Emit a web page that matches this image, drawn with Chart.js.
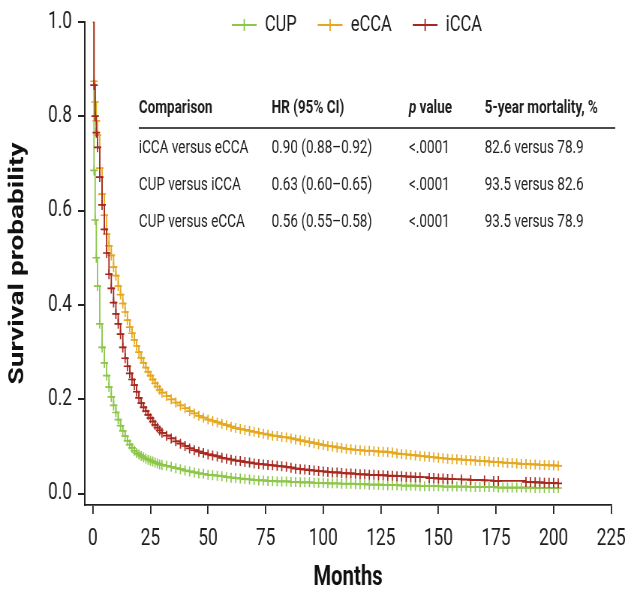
<!DOCTYPE html>
<html>
<head>
<meta charset="utf-8">
<script src="https://cdn.jsdelivr.net/npm/chart.js@4.4.1/dist/chart.umd.min.js"></script>
<style>
  html, body { margin: 0; padding: 0; background: #fff; overflow: hidden; }
  /* the original figure is horizontally condensed, so draw wide and squeeze */
  #wrap { width: 845px; height: 594px; position: relative; transform: scaleX(0.7503); transform-origin: 0 0; }
</style>
</head>
<body>
<div id="wrap"><canvas id="km"></canvas></div>
<script>
// Kaplan-Meier survival, values
const months = [0, 0.5, 1, 1.5, 2, 3, 4, 5, 6, 7, 8, 9, 10, 11, 12, 13, 14, 15, 16, 17, 18, 19, 20,
  21, 22, 23, 24, 25, 26, 27, 28, 29, 30,
  32, 34, 36, 38, 40, 42, 44, 46, 48, 50,
  52, 54, 56, 58, 60, 62, 64, 66, 68, 70,
  72, 74, 76, 78, 80, 82, 84, 86, 88, 90,
  92, 94, 96, 98, 100, 102, 104, 106, 108, 110,
  112, 114, 116, 118, 120, 122, 124, 126, 128, 130,
  132, 134, 136, 138, 140, 142, 144, 146, 148, 150,
  152, 154, 156, 158, 160, 162, 164, 166, 168, 170,
  172, 174, 176, 178, 180, 182, 184, 186, 188, 190,
  192, 194, 196, 198, 200, 202];

const cup = [1.0, 0.685, 0.58, 0.50, 0.44, 0.36, 0.31, 0.277, 0.25, 0.226, 0.205, 0.187, 0.172,
  0.157, 0.144, 0.133, 0.122, 0.112, 0.104, 0.097, 0.091, 0.086, 0.083,
  0.080, 0.077, 0.074, 0.072, 0.070, 0.068, 0.066, 0.064, 0.062, 0.061,
  0.059, 0.057, 0.054, 0.052, 0.049, 0.047, 0.045, 0.043, 0.042, 0.040,
  0.039, 0.038, 0.037, 0.035, 0.034, 0.033, 0.032, 0.031, 0.030, 0.029,
  0.028, 0.028, 0.027, 0.027, 0.026, 0.026, 0.026, 0.025, 0.025, 0.024,
  0.024, 0.024, 0.023, 0.023, 0.023, 0.022, 0.022, 0.022, 0.021, 0.021,
  0.021, 0.020, 0.020, 0.020, 0.019, 0.019, 0.019, 0.018, 0.018, 0.018,
  0.018, 0.017, 0.017, 0.017, 0.017, 0.016, 0.016, 0.016, 0.016, 0.016,
  0.015, 0.015, 0.015, 0.015, 0.015, 0.015, 0.014, 0.014, 0.014, 0.014,
  0.014, 0.014, 0.013, 0.013, 0.013, 0.013, 0.013, 0.013, 0.013, 0.013,
  0.012, 0.012, 0.012, 0.012, 0.012, 0.012];

const ecca = [1.0, 0.874, 0.83, 0.79, 0.76, 0.69, 0.635, 0.59, 0.55, 0.525, 0.505, 0.48, 0.462,
  0.44, 0.422, 0.403, 0.385, 0.368, 0.353, 0.340, 0.326, 0.313, 0.300,
  0.288, 0.277, 0.267, 0.258, 0.250, 0.242, 0.234, 0.227, 0.220, 0.214,
  0.207, 0.200, 0.193, 0.187, 0.181, 0.175, 0.170, 0.165, 0.161, 0.157,
  0.154, 0.151, 0.148, 0.145, 0.142, 0.139, 0.137, 0.135, 0.133, 0.131,
  0.129, 0.127, 0.125, 0.123, 0.122, 0.120, 0.119, 0.117, 0.115, 0.113,
  0.111, 0.109, 0.107, 0.105, 0.103, 0.101, 0.100, 0.098, 0.097, 0.095,
  0.094, 0.093, 0.092, 0.091, 0.091, 0.090, 0.089, 0.089, 0.088, 0.087,
  0.085, 0.084, 0.083, 0.082, 0.081, 0.080, 0.079, 0.078, 0.077, 0.076,
  0.075, 0.074, 0.073, 0.073, 0.072, 0.071, 0.071, 0.070, 0.069, 0.069,
  0.068, 0.067, 0.067, 0.066, 0.065, 0.065, 0.064, 0.063, 0.063, 0.062,
  0.062, 0.061, 0.061, 0.060, 0.060, 0.059];

// null = no censor mark at that month (line carries on)
const icca = [1.0, 0.866, 0.80, 0.765, 0.734, 0.671, 0.612, 0.56, 0.51, 0.465, 0.435, 0.405, 0.381,
  0.36, 0.338, 0.31, 0.287, 0.27, 0.255, 0.242, 0.23, 0.216, 0.203,
  0.192, 0.183, 0.175, 0.167, 0.160, 0.153, 0.146, 0.140, 0.134, 0.129,
  0.123, 0.117, 0.111, 0.106, 0.101, 0.096, 0.092, 0.089, 0.086, 0.083,
  0.081, 0.079, 0.076, 0.074, 0.072, 0.070, 0.069, 0.067, 0.066, 0.064,
  0.063, 0.062, 0.061, 0.060, 0.059, 0.058, 0.057, 0.055, 0.053, 0.052,
  0.051, 0.050, 0.049, 0.048, 0.047, 0.046, 0.045, 0.045, 0.044, 0.043,
  0.043, 0.042, 0.041, 0.041, 0.040, 0.040, 0.039, 0.039, 0.038, 0.038,
  0.037, 0.037, 0.036, 0.036, 0.035, 0.035, null, 0.033, 0.033, 0.032,
  0.032, 0.031, 0.031, null, 0.030, null, 0.029, null, null, 0.028,
  null, 0.027, 0.027, null, null, null, null, null, 0.025, 0.025,
  0.024, 0.024, 0.023, 0.023, 0.023, 0.022];

const seriesNames = ['CUP', 'eCCA', 'iCCA'];
const seriesColors = ['#8cc64a', '#e4a820', '#a6281e'];
const xTicks = [0, 25, 50, 75, 100, 125, 150, 175, 200, 225];
const yTicks = [0, 0.2, 0.4, 0.6, 0.8, 1.0];

const tableHeader = ['Comparison', 'HR (95% CI)', 'p value', '5-year mortality, %'];
const tableRows = [
  ['iCCA versus eCCA', '0.90 (0.88\u20130.92)', '<.0001', '82.6 versus 78.9'],
  ['CUP versus iCCA', '0.63 (0.60\u20130.65)', '<.0001', '93.5 versus 82.6'],
  ['CUP versus eCCA', '0.56 (0.55\u20130.58)', '<.0001', '93.5 versus 78.9']
];

const FONT = "Roboto, 'Liberation Sans', sans-serif";
const INK = '#1e1e1e';

function makeSet(name, vals, color, order) {
  return {
    label: name,
    data: months.map((m, i) => ({ x: m, y: vals[i] })),
    borderColor: color,
    backgroundColor: color,
    borderWidth: 1.8,
    stepped: true,
    spanGaps: true,
    pointStyle: 'cross',
    pointRadius: c => (c.dataIndex === 0 ? 0 : 5),
    pointBorderWidth: 1.7,
    pointBorderColor: color,
    order: order
  };
}

// legend and comparison table drawn over the plot
const overlay = {
  id: 'overlay',
  afterDraw(chart) {
    const ctx = chart.ctx;
    ctx.save();
    ctx.textBaseline = 'middle';
    ctx.textAlign = 'left';

    // legend
    ctx.font = '22px ' + FONT;
    let lx = 309;
    const ly = 25;
    seriesNames.forEach((name, i) => {
      ctx.strokeStyle = seriesColors[i];
      ctx.lineWidth = 1.8;
      ctx.beginPath();
      ctx.moveTo(lx, ly); ctx.lineTo(lx + 33, ly);
      ctx.moveTo(lx + 16.5, ly - 6); ctx.lineTo(lx + 16.5, ly + 6);
      ctx.stroke();
      ctx.fillStyle = INK;
      ctx.fillText(name, lx + 44, ly);
      lx += 44 + ctx.measureText(name).width + 28;
    });

    // table
    const cols = [185, 362, 545, 646];
    const headY = 108;
    ctx.fillStyle = INK;
    ctx.font = 'bold 18px ' + FONT;
    tableHeader.forEach((h, j) => {
      if (h.startsWith('p ')) {
        ctx.font = 'italic bold 18px ' + FONT;
        ctx.fillText('p', cols[j], headY);
        const w = ctx.measureText('p ').width;
        ctx.font = 'bold 18px ' + FONT;
        ctx.fillText(h.slice(2), cols[j] + w, headY);
      } else {
        ctx.fillText(h, cols[j], headY);
      }
    });
    ctx.strokeStyle = '#4a4a4a';
    ctx.lineWidth = 2;
    ctx.beginPath();
    ctx.moveTo(185, 128); ctx.lineTo(820, 128);
    ctx.stroke();

    ctx.font = '18px ' + FONT;
    tableRows.forEach((row, r) => {
      row.forEach((cell, j) => ctx.fillText(cell, cols[j], 148 + r * 37));
    });
    ctx.restore();
  }
};

new Chart(document.getElementById('km'), {
  type: 'line',
  data: {
    datasets: [
      makeSet('CUP', cup, seriesColors[0], 3),
      makeSet('eCCA', ecca, seriesColors[1], 2),
      makeSet('iCCA', icca, seriesColors[2], 1)
    ]
  },
  options: {
    responsive: true,
    maintainAspectRatio: false,
    animation: false,
    layout: { padding: { top: 12, right: 24, left: 0, bottom: 0 } },
    plugins: { legend: { display: false }, tooltip: { enabled: false } },
    scales: {
      x: {
        type: 'linear',
        min: -3.5,
        max: 225,
        afterBuildTicks: s => { s.ticks = xTicks.map(v => ({ value: v })); },
        afterFit: s => { s.height = 89; },
        ticks: { font: { family: FONT, size: 23 }, color: INK, padding: 11, maxRotation: 0, autoSkip: false },
        grid: { display: true, drawOnChartArea: false, drawTicks: true, tickLength: 9, color: '#222', lineWidth: 1.8 },
        border: { display: true, color: '#222', width: 1.8 },
        title: { display: true, text: 'Months', font: { family: FONT, size: 27, weight: 'bold' }, color: '#111', padding: { top: 0, bottom: 0 } }
      },
      y: {
        min: -0.024,
        max: 1.0,
        afterBuildTicks: s => { s.ticks = yTicks.map(v => ({ value: v })); },
        afterFit: s => { s.width = 113; },
        ticks: { font: { family: FONT, size: 23 }, color: INK, padding: 8, callback: v => v.toFixed(1) },
        grid: { display: true, drawOnChartArea: false, drawTicks: true, tickLength: 9, color: '#222', lineWidth: 2 },
        border: { display: true, color: '#222', width: 2 },
        title: { display: true, text: 'Survival probability', font: { family: FONT, size: 28, weight: 'bold' }, color: '#111', padding: { top: 7, bottom: 0 } }
      }
    }
  },
  plugins: [overlay]
});
</script>
</body>
</html>
